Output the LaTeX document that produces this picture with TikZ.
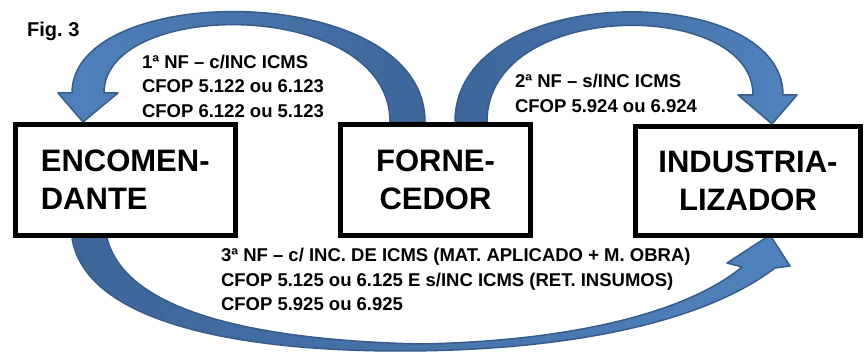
\documentclass[tikz,border=0pt]{standalone}
\usepackage{fontspec}
\setmainfont{Liberation Sans}
\usepackage{tikz}

\newcommand{\arcleft}{(425,230) .. controls (425,372) and (72,372) .. (72,259) --
	(58,259) -- (83,230) -- (118,259) -- (104,259) .. controls (104,354.5) and (390,354.5) .. (390,230) -- cycle}
\newcommand{\arcright}{(455,230) .. controls (455,372) and (783,372) .. (783,257) --
	(797,257) -- (772,228) -- (738,257) -- (753,257) .. controls (753,354) and (487,354) .. (487,230) -- cycle}
\newcommand{\arcbottom}{(72,114) .. controls (85,32) and (230,1) .. (400,1) .. controls (560,1) and (700,27) .. (775,84) --
	(790,86) -- (770,117) -- (727,89) -- (742,85) .. controls (690,42) and (580,11) .. (420,8) .. controls (250,12) and (125,42) .. (107,114) -- cycle}

\begin{document}
\begin{tikzpicture}[x=1pt,y=1pt,
	box/.style={draw=black,line width=5pt,fill=white,inner sep=0pt,align=center,
		font=\fontsize{31}{38}\selectfont\bfseries},
	note/.style={anchor=north west,align=left,inner sep=0pt,outer sep=0pt,
		font=\fontsize{18.5}{24.4}\selectfont\bfseries},
	bandline/.style={draw=lineColor,line width=1.5pt,line join=round}]
\definecolor[named]{lightColor}{rgb}{0.31,0.51,0.74}
\definecolor[named]{darkColor}{rgb}{0.24,0.40,0.60}
\definecolor[named]{lineColor}{rgb}{0.22,0.36,0.54}
\path[use as bounding box,fill=white] (0,0) rectangle (866,352);

% arrows
\shade[left color=lightColor,right color=darkColor] \arcleft;
\path[bandline] \arcleft;

\shade[left color=darkColor,right color=lightColor] \arcright;
\path[bandline] \arcright;

\shade[left color=darkColor,right color=lightColor] \arcbottom;
\path[bandline] \arcbottom;

% boxes
\node[box,align=left,minimum width=220.5,minimum height=111] (encomendante) at (125.25,172) {ENCOMEN-\\DANTE};
\node[box,minimum width=190,minimum height=111] (fornecedor) at (435.5,172) {FORNE-\\CEDOR};
\node[box,minimum width=225,minimum height=109] (industrializador) at (748,171) {INDUSTRIA-\\LIZADOR};

% labels
\node[anchor=base west,inner sep=0pt,font=\fontsize{20}{24}\selectfont\bfseries] (fig) at (27,315) {Fig.\ 3};
\node[note] (nf1) at (142,297) {1ª NF – c/INC ICMS\\CFOP 5.122 ou 6.123\\CFOP 6.122 ou 5.123};
\node[note] (nf2) at (515,277.5) {2ª NF – s/INC ICMS\\CFOP 5.924 ou 6.924};
\node[note] (nf3) at (221,103.5) {3ª NF – c/ INC. DE ICMS (MAT. APLICADO + M. OBRA)\\CFOP 5.125 ou 6.125 E s/INC ICMS (RET. INSUMOS)\\CFOP 5.925 ou 6.925};
\end{tikzpicture}
\end{document}
